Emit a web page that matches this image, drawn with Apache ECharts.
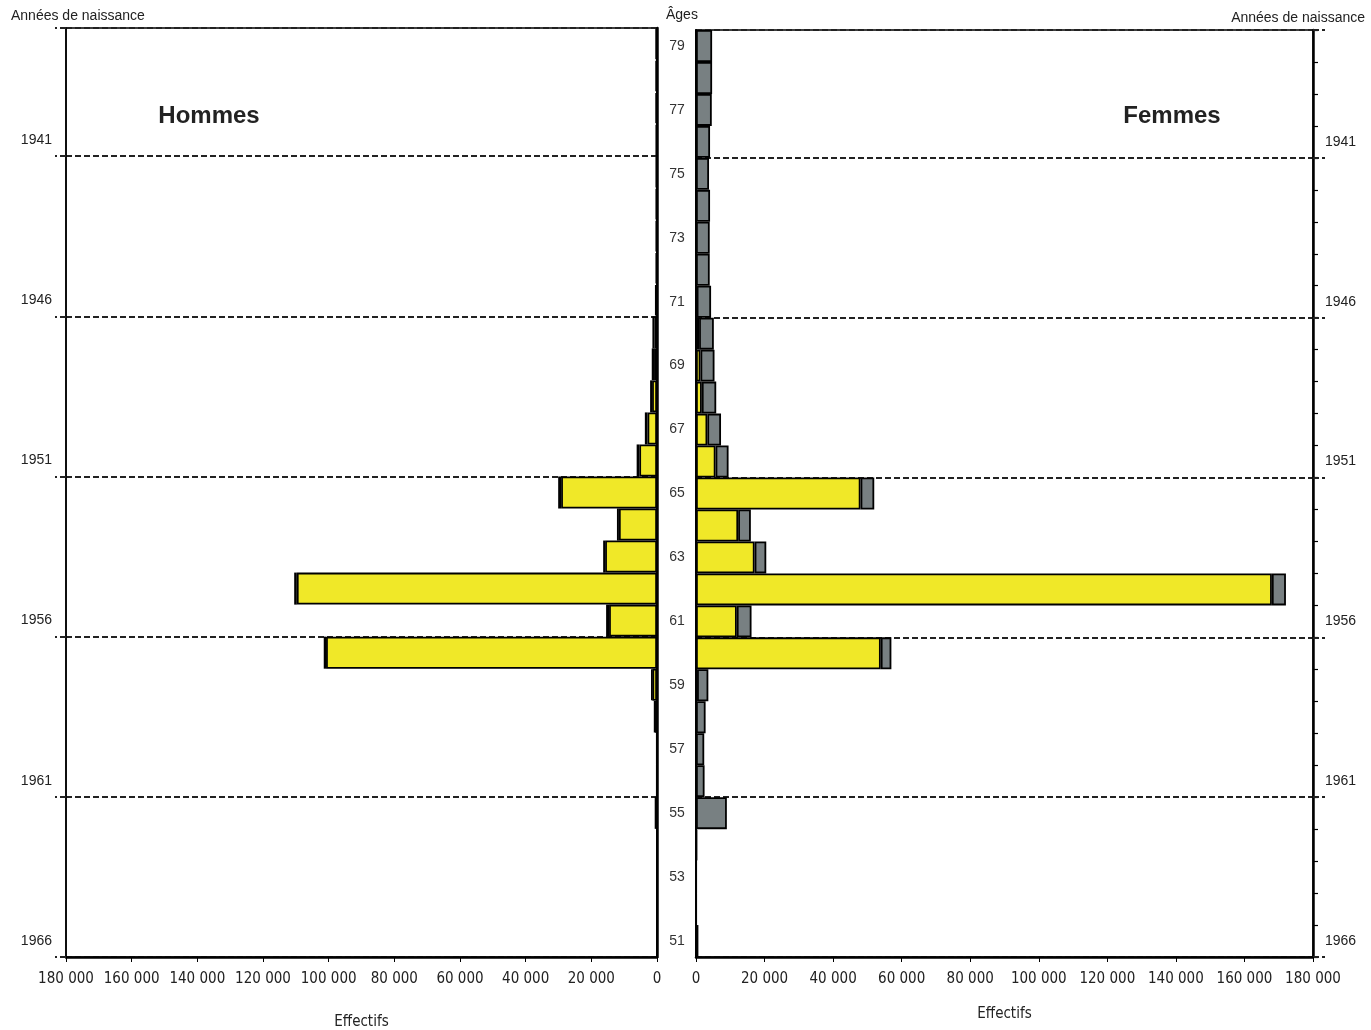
<!DOCTYPE html>
<html>
<head>
<meta charset="utf-8">
<script src="https://cdn.jsdelivr.net/npm/echarts@6/dist/echarts.min.js"></script>
<style>html,body{margin:0;padding:0;background:#fff}#c{width:1371px;height:1030px}</style>
</head>
<body>
<div id="c"></div>
<script>
// Ages (bottom to top) and matching birth years
const ages = ['51','52','53','54','55','56','57','58','59','60','61','62','63','64','65','66','67','68','69','70','71','72','73','74','75','76','77','78','79'];
const birthYears = ['1966','1965','1964','1963','1962','1961','1960','1959','1958','1957','1956','1955','1954','1953','1952','1951','1950','1949','1948','1947','1946','1945','1944','1943','1942','1941','1940','1939','1938'];
const shownYears = ['1941','1946','1951','1956','1961','1966'];
const xTicks = [0, 20000, 40000, 60000, 80000, 100000, 120000, 140000, 160000, 180000];

// Hommes (men): yellow part and grey part
const hommesJaune = [0,0,0,0,0,0,0,600,1400,100800,14600,109700,15800,11600,29200,5400,2900,1500,900,800,100,0,0,0,0,0,0,0,0];
const hommesGris  = [0,0,0,0,700,100,100,200,300,700,900,800,600,600,900,800,800,600,700,600,500,400,400,400,400,400,500,500,500];
// Femmes (women): yellow part and grey part
const femmesJaune = [0,0,0,0,0,0,0,0,300,53900,11900,168000,17100,12300,48000,5700,3300,1700,1300,900,200,0,0,0,0,0,0,0,0];
const femmesGris  = [700,100,100,300,9000,2500,2400,2800,3300,3100,4300,4100,3400,3700,4000,3800,4000,4200,4100,4300,4200,4000,4000,4100,3800,4100,4600,4700,4700];

const YELLOW = '#F0E828';
const GREY = '#788082';
const BORDER = '#000';
const COND = '"DejaVu Sans Condensed", "Liberation Sans", Arial, sans-serif';
const SANS = '"Liberation Sans", Arial, sans-serif';

const fmt = v => String(v).replace(/\B(?=(\d{3})+(?!\d))/g, ' ');
const isShownYear = (i) => shownYears.indexOf(birthYears[i]) >= 0;
const dashStyle = { color: '#222', width: 2, type: [6, 3] };

const chart = echarts.init(document.getElementById('c'), null, { renderer: 'canvas' });

function xAxisCfg(grid, inverse, nameGap) {
  return {
    gridIndex: grid, type: 'value', inverse: inverse,
    min: xTicks[0], max: xTicks[xTicks.length - 1], interval: xTicks[1] - xTicks[0],
    position: 'bottom',
    name: 'Effectifs', nameLocation: 'middle', nameGap: nameGap,
    nameTextStyle: { fontFamily: COND, fontSize: 15, color: '#222' },
    axisLine: { show: true, lineStyle: { color: '#000', width: 2.5 } },
    axisTick: { show: true, length: 5, lineStyle: { color: '#000', width: 1 } },
    axisLabel: { formatter: fmt, fontFamily: COND, fontSize: 15, color: '#222', margin: 15 },
    splitLine: { show: false }
  };
}

const option = {
  animation: false,
  backgroundColor: '#fff',
  grid: [
    { left: 66, top: 28, width: 591, height: 929, outerBoundsMode: 'none', containLabel: false, show: true, borderColor: '#000', borderWidth: 1.5, backgroundColor: 'transparent' },
    { left: 696, top: 30, width: 617, height: 927, outerBoundsMode: 'none', containLabel: false, show: true, borderColor: '#000', borderWidth: 1.5, backgroundColor: 'transparent' }
  ],
  xAxis: [ xAxisCfg(0, true, 58), xAxisCfg(1, false, 50) ],
  yAxis: [
    { // left grid, age axis at centre
      gridIndex: 0, type: 'category', data: ages, position: 'right',
      axisLine: { show: true, lineStyle: { color: '#000', width: 2.5 } },
      axisTick: { show: false }, axisLabel: { show: false }, splitLine: { show: false }
    },
    { // left grid, birth years
      gridIndex: 0, type: 'category', data: birthYears, position: 'left',
      axisLine: { show: true, lineStyle: { color: '#000', width: 1.5 } },
      axisTick: { show: true, length: 11, interval: (i) => isShownYear(i), lineStyle: dashStyle },
      axisLabel: { show: true, interval: (i) => isShownYear(i), margin: 14, fontFamily: SANS, fontSize: 14, color: '#222' },
      splitLine: { show: true, interval: (i) => isShownYear(i), lineStyle: dashStyle }
    },
    { // right grid, age axis with labels
      gridIndex: 1, type: 'category', data: ages, position: 'left',
      axisLine: { show: true, lineStyle: { color: '#000', width: 2 } },
      axisTick: { show: false },
      axisLabel: { show: true, interval: (i) => i % 2 === 0, align: 'center', margin: 19, fontFamily: SANS, fontSize: 14, color: '#333' },
      splitLine: { show: false }
    },
    { // right grid, birth years
      gridIndex: 1, type: 'category', data: birthYears, position: 'right',
      axisLine: { show: true, lineStyle: { color: '#000', width: 2.5 } },
      axisTick: { show: true, length: 5, interval: 0, lineStyle: { color: '#000', width: 1.2 } },
      axisLabel: { show: true, interval: (i) => isShownYear(i), margin: 12, fontFamily: SANS, fontSize: 14, color: '#222' },
      splitLine: { show: true, interval: (i) => isShownYear(i), lineStyle: dashStyle }
    },
    { // right grid, dashed extensions
      gridIndex: 1, type: 'category', data: birthYears, position: 'right',
      axisLine: { show: false },
      axisTick: { show: true, length: 12, interval: (i) => isShownYear(i), lineStyle: dashStyle },
      axisLabel: { show: false }, splitLine: { show: false }
    }
  ],
  graphic: [
    { type: 'text', left: 11, top: 9, style: { text: 'Années de naissance', font: '14px ' + SANS, fill: '#222' } },
    { type: 'text', right: 6, top: 11, style: { text: 'Années de naissance', font: '14px ' + SANS, fill: '#222' } },
    { type: 'text', left: 666, top: 8, style: { text: 'Âges', font: '14px ' + SANS, fill: '#222' } },
    { type: 'text', x: 209, y: 116, style: { text: 'Hommes', font: 'bold 24px ' + SANS, fill: '#222', textAlign: 'center', textVerticalAlign: 'middle' } },
    { type: 'text', x: 1172, y: 116, style: { text: 'Femmes', font: 'bold 24px ' + SANS, fill: '#222', textAlign: 'center', textVerticalAlign: 'middle' } }
  ],
  series: [
    { name: 'Hommes jaune', type: 'bar', xAxisIndex: 0, yAxisIndex: 0, stack: 'h', data: hommesJaune, barCategoryGap: 0,
      itemStyle: { color: YELLOW, borderColor: BORDER, borderWidth: 1.8 } },
    { name: 'Hommes gris', type: 'bar', xAxisIndex: 0, yAxisIndex: 0, stack: 'h', data: hommesGris, barCategoryGap: 0,
      itemStyle: { color: GREY, borderColor: BORDER, borderWidth: 1.8 } },
    { name: 'Femmes jaune', type: 'bar', xAxisIndex: 1, yAxisIndex: 2, stack: 'f', data: femmesJaune, barCategoryGap: 0,
      itemStyle: { color: YELLOW, borderColor: BORDER, borderWidth: 1.8 } },
    { name: 'Femmes gris', type: 'bar', xAxisIndex: 1, yAxisIndex: 2, stack: 'f', data: femmesGris, barCategoryGap: 0,
      itemStyle: { color: GREY, borderColor: BORDER, borderWidth: 1.8 } }
  ]
};
chart.setOption(option);
</script>
</body>
</html>
